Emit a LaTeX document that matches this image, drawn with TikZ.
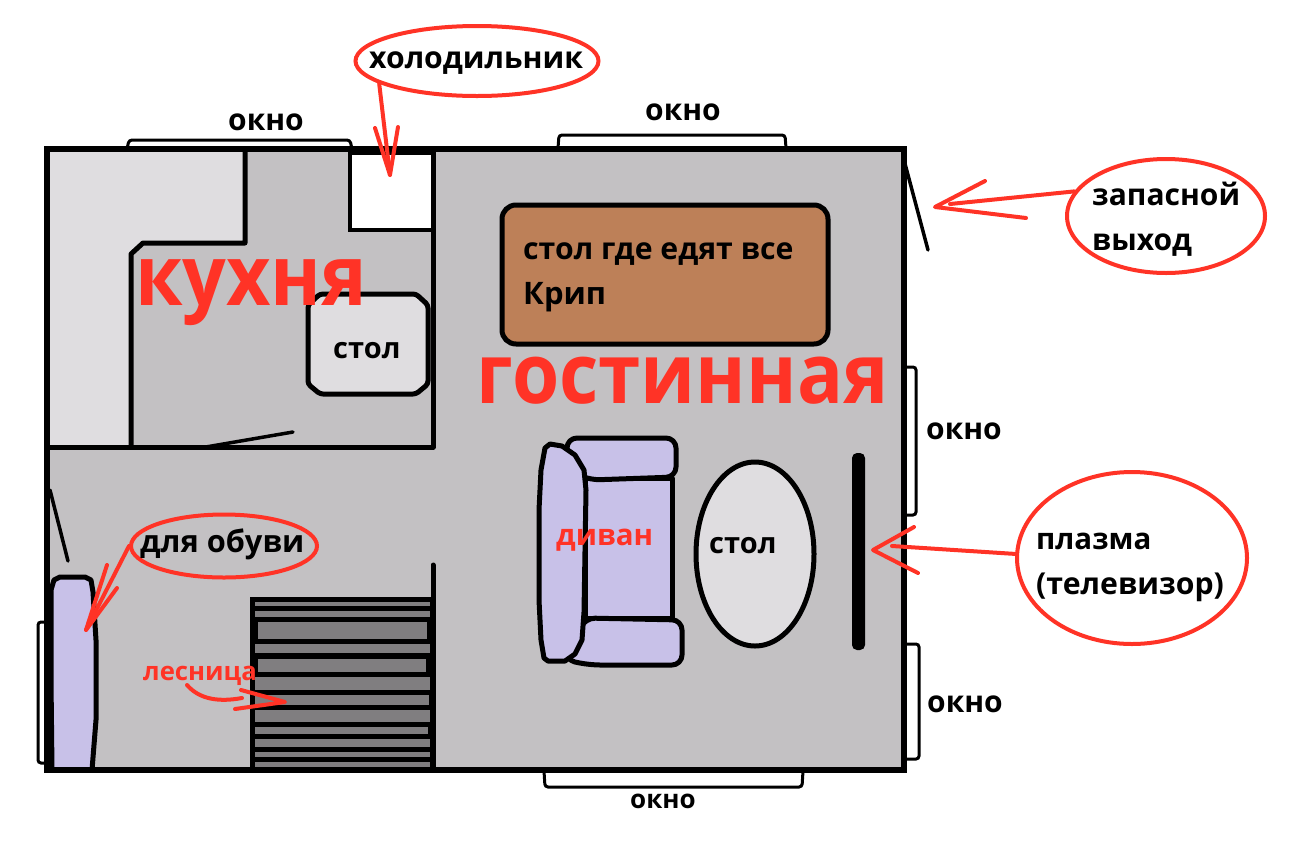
\documentclass[tikz,border=0pt]{standalone}
\usepackage{fontspec}
\setmainfont{Open Sans}
\newfontfamily\narrowf[FakeStretch=0.915]{Open Sans}
\usetikzlibrary{shapes.geometric}
\definecolor{floorc}{HTML}{C3C1C3}
\definecolor{lightc}{HTML}{DFDDE0}
\definecolor{brownc}{HTML}{BD8058}
\definecolor{lavc}{HTML}{C8C1E8}
\definecolor{stairc}{HTML}{807E80}
\definecolor{redc}{HTML}{FF3326}
\newcommand{\fsz}[1]{\fontsize{#1}{#1}\selectfont\bfseries}
\tikzset{
  wall/.style={draw=black,line width=6pt,line join=miter},
  inner/.style={draw=black,line width=5pt,line join=round,line cap=round},
  win/.style={draw=black,fill=white,line width=3pt,rounded corners=3pt},
  doorline/.style={draw=black,line width=3.5pt,line cap=round},
  furn/.style={draw=black,line width=5pt,line join=round},
  red hand/.style={draw=redc,line width=4pt,line cap=round,line join=round},
  red oval/.style={ellipse,draw=redc,line width=4pt,inner sep=0pt},
  blk/.style={anchor=base west,inner sep=0pt,text=black},
  redt/.style={anchor=base west,inner sep=0pt,text=redc},
  band/.style={fill=stairc,draw=none}
}
\begin{document}
\begin{tikzpicture}[x=1pt,y=-1pt]
\useasboundingbox (0,0) rectangle (1292,852);
\fill[white] (0,0) rectangle (1292,852);
% windows
\draw[win] (127,149) -- (129,140) -- (350,140) -- (352,149);
\draw[win] (558,148) -- (559,135) -- (785,135) -- (786,148);
\draw[win] (905,367) -- (916,367) -- (916,515) -- (905,515);
\draw[win] (905,644) -- (919,644) -- (919,759) -- (905,759);
\draw[win] (544,771) -- (545,787) -- (802,787) -- (803,771);
\draw[win] (47,622) -- (38,622) -- (38,763) -- (47,763);
% floor and walls
\fill[floorc] (47,149) rectangle (904,770);
% kitchen counter
\path[fill=lightc] (50,152) -- (245,152) -- (245,243) -- (143,243) -- (131,254) -- (131,447) -- (50,447) -- cycle;
\draw[inner,line cap=butt] (245,152) -- (245,243) -- (143,243) -- (131,254) -- (131,447);
% fridge
\fill[white] (350,154) rectangle (432,230);
\draw[draw=black,line width=4pt] (350,150) -- (350,230) -- (432,230);
\draw[draw=black,line width=9pt] (348,150) -- (435,150);
% kitchen walls
\draw[inner] (47,447) -- (433,447) -- (433,149);
\draw[doorline] (200,448) -- (293,432);
% kitchen table
\draw[furn,fill=lightc,rounded corners=3pt] (320,294) -- (416,294) -- (428,305) -- (428,384) -- (416,394) -- (320,394) -- (308,384) -- (308,305) -- cycle;
% dining table
\draw[furn,fill=brownc,rounded corners=14pt] (502,205) rectangle (828,344);
% sofa
\draw[furn,fill=lavc] (585,478) -- (672,478) -- (672,618) -- (585,618) -- cycle;
\draw[furn,fill=lavc,rounded corners=10pt] (567,438) -- (676,438) -- (676,477) -- (590,480) -- (567,470) -- cycle;
\draw[furn,fill=lavc,rounded corners=10pt] (585,618) -- (682,620) -- (682,665) -- (590,665) -- (565,660) -- cycle;
\draw[furn,fill=lavc] (550,444) -- (545,448) -- (541,470) -- (539,510) -- (539,600) -- (541,640) -- (544,658) -- (548,661) -- (565,661) -- (575,654) -- (582,640) -- (584,612) -- (586,490) -- (584,470) -- (575,455) -- (562,446) -- cycle;
% oval table
\node[ellipse,draw=black,fill=lightc,line width=5pt,minimum width=118pt,minimum height=184pt,inner sep=0pt] (otable) at (755,554) {};
% TV
\fill[black,rounded corners=5pt] (852,453) rectangle (865,650);
% stairs
\fill[black] (250,597) rectangle (435,773);
\foreach \a/\b/\l/\r in {601.7/605.7/255/430,611/616.7/255/430,621.7/639/258/427,644/653.3/255/430,659/671.7/258/426,676.7/690/255/430,695/705/255/429,710/721.7/255/430,726.7/734/255/428,739/746.7/255/430,751.7/756.7/255/430,761.7/768/255/430}
  \path[band] (\l,\a) rectangle (\r,\b);
\draw[draw=black,line width=5pt,line cap=round] (433,565) -- (433,768);
% shoe rack
\path[fill=lavc,draw=black,line width=5pt,line join=round] (52,770) -- (51,680) -- (51,590) -- (54,580) -- (60,577) -- (85,577) -- (91,580) -- (93,592) -- (96,640) -- (96,720) -- (92,770) -- cycle;
% outer wall
\draw[wall] (47,149) rectangle (904,770);
% doors
\draw[doorline] (904,160) -- (928,250);
\draw[doorline] (50,490) -- (68,561);
% callouts
\node[red oval,minimum width=243pt,minimum height=70pt] (fridgeOval) at (477,61) {};
\node[red oval,minimum width=198pt,minimum height=114pt] (exitOval) at (1166,216) {};
\node[red oval,minimum width=230pt,minimum height=172pt] (tvOval) at (1132,558) {};
\node[red oval,minimum width=186pt,minimum height=63pt] (shoeOval) at (224,546) {};
\coordinate (fridgeTip) at (390,175);
\coordinate (exitTip) at (935,207);
\coordinate (tvTip) at (873,550);
\coordinate (shoeTip) at (86,630);
\coordinate (stairTip) at (285,702);
\draw[red hand] (fridgeOval.-167) -- (fridgeTip);
\draw[red hand] (375,128) -- (fridgeTip) -- (398,127);
\draw[red hand] (exitOval.165) -- (950,204);
\draw[red hand] (985,181) -- (exitTip) -- (1026,218);
\draw[red hand] (tvOval.178) -- (892,546);
\draw[red hand] (914,527) -- (tvTip) -- (918,573);
\draw[red hand] (shoeOval.west) -- (shoeTip);
\draw[red hand] (107,565) -- (shoeTip) -- (117,588);
\draw[red hand] (187,685) .. controls (200,700) and (220,702) .. (242,698);
\draw[red hand] (241,690) -- (stairTip) -- (235,709);
% labels
\node[blk] (t1) at (228,130) {\fsz{30}окно};
\node[blk] (t2) at (645,120) {\fsz{30}окно};
\node[blk] (t3) at (926,439) {\fsz{30}окно};
\node[blk] (t4) at (927,712) {\fsz{30}окно};
\node[blk] (t5) at (630,808) {\fsz{26}окно};
\node[blk] (t6) at (369,68) {\fsz{30.2}холодильник};
\node[blk] (t7) at (333,358) {\fsz{29}стол};
\node[blk] (t8) at (709,553) {\fsz{29}стол};
\node[blk] (t9) at (523,259) {\fsz{30.2}стол где едят все};
\node[blk] (t10) at (523,304) {\fsz{31}Крип};
\node[blk] (t11) at (140,552) {\fsz{30.8}для обуви};
\node[blk] (t12) at (1092,205) {\fsz{30}запасной};
\node[blk] (t13) at (1092,250) {\fsz{30}выход};
\node[blk] (t14) at (1036,549) {\fsz{29.5}плазма};
\node[blk] (t15) at (1036,594) {\fsz{30.2}(телевизор)};
\node[redt] (r1) at (135,305) {\narrowf\fsz{84}кухня};
\node[redt] (r2) at (476,403) {\narrowf\fsz{83.5}гостинная};
\node[redt] (r3) at (556,545) {\fsz{29.5}диван};
\node[redt] (r4) at (143,680) {\fsz{25.7}лесница};
\end{tikzpicture}
\end{document}
